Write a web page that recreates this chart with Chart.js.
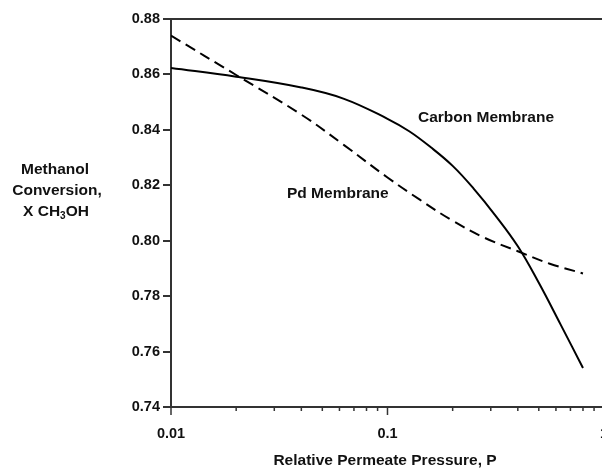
<!DOCTYPE html>
<html>
<head>
<meta charset="utf-8">
<script src="https://cdn.jsdelivr.net/npm/chart.js@4"></script>
<style>
  html, body { margin: 0; padding: 0; background: #fff; overflow: hidden; }
  #wrap { width: 618px; height: 470px; }
</style>
</head>
<body>
<div id="wrap"><canvas id="chart" width="618" height="470"></canvas></div>
<script>
// Methanol conversion vs relative permeate pressure

const carbonP = [0.01, 0.02, 0.04, 0.063, 0.1, 0.126, 0.158, 0.2, 0.25, 0.316, 0.4, 0.5, 0.63, 0.8];
const carbonX = [0.8623, 0.8592, 0.8553, 0.8512, 0.8440, 0.8395, 0.8338, 0.8270, 0.8188, 0.8090, 0.7980, 0.7848, 0.7698, 0.7541];

const pdP = [0.01, 0.02, 0.04, 0.063, 0.1, 0.141, 0.2, 0.282, 0.4, 0.562, 0.8];
const pdX = [0.8740, 0.8598, 0.8455, 0.8345, 0.8228, 0.8148, 0.8072, 0.8010, 0.7962, 0.7917, 0.7882];

const xTickLabels = [0.01, 0.1, 1];
const yTicks = [0.74, 0.76, 0.78, 0.80, 0.82, 0.84, 0.86, 0.88];

const FONT = "'Liberation Sans', Arial, sans-serif";
const INK = '#111';
const AXIS = '#333';

const toPoints = (xs, ys) => xs.map((x, i) => ({ x, y: ys[i] }));

// top border, x ticks (long major / short minor), and free text
const extras = {
  id: 'extras',
  afterDraw(chart) {
    const { ctx, chartArea: a, scales } = chart;
    const xs = scales.x;
    ctx.save();
    ctx.strokeStyle = AXIS;
    ctx.lineWidth = 2;
    ctx.beginPath();
    ctx.moveTo(a.left, a.top);
    ctx.lineTo(a.right + 10, a.top);
    ctx.stroke();

    ctx.lineWidth = 1.5;
    xs.ticks.forEach(t => {
      const major = Math.abs(Math.log10(t.value) - Math.round(Math.log10(t.value))) < 1e-6;
      const px = xs.getPixelForValue(t.value);
      ctx.beginPath();
      ctx.moveTo(px, a.bottom);
      ctx.lineTo(px, a.bottom + (major ? 8 : 4));
      ctx.stroke();
    });

    ctx.fillStyle = INK;
    ctx.font = `bold 15.5px ${FONT}`;
    ctx.textAlign = 'center';
    ctx.textBaseline = 'middle';
    ctx.fillText('Methanol', 55, 170);
    ctx.fillText('Conversion,', 57, 191);
    // X CH3OH with subscript 3
    const pre = 'X CH', sub = '3', post = 'OH';
    const wPre = ctx.measureText(pre).width;
    const wPost = ctx.measureText(post).width;
    ctx.font = `bold 10px ${FONT}`;
    const wSub = ctx.measureText(sub).width;
    const total = wPre + wSub + wPost;
    let x0 = 56 - total / 2;
    ctx.textAlign = 'left';
    ctx.font = `bold 15.5px ${FONT}`;
    ctx.fillText(pre, x0, 212);
    ctx.font = `bold 10px ${FONT}`;
    ctx.fillText(sub, x0 + wPre, 216);
    ctx.font = `bold 15.5px ${FONT}`;
    ctx.fillText(post, x0 + wPre + wSub, 212);

    ctx.textAlign = 'center';
    ctx.fillText('Relative Permeate Pressure, P', 385, 461);
    ctx.textAlign = 'left';
    ctx.fillText('Carbon Membrane', 418, 118);
    ctx.fillText('Pd Membrane', 287, 194);
    ctx.restore();
  }
};

new Chart(document.getElementById('chart'), {
  type: 'line',
  data: {
    datasets: [
      {
        label: 'Carbon Membrane',
        data: toPoints(carbonP, carbonX),
        borderColor: '#000',
        borderWidth: 2,
        pointRadius: 0,
        tension: 0.4,
        fill: false
      },
      {
        label: 'Pd Membrane',
        data: toPoints(pdP, pdX),
        borderColor: '#000',
        borderWidth: 2,
        borderDash: [11, 6],
        pointRadius: 0,
        tension: 0.4,
        fill: false
      }
    ]
  },
  options: {
    responsive: false,
    animation: false,
    layout: { padding: { top: 19, right: 0, left: 0, bottom: 0 } },
    plugins: { legend: { display: false }, tooltip: { enabled: false } },
    scales: {
      x: {
        type: 'logarithmic',
        min: 0.01,
        max: 1,
        afterFit: s => { s.height = 63; },
        afterBuildTicks: s => {
          const t = [];
          [0.01, 0.1].forEach(d => { for (let k = 1; k <= 9; k++) t.push({ value: +(d * k).toPrecision(3) }); });
          t.push({ value: 1 });
          s.ticks = t;
        },
        grid: { display: false },
        border: { display: true, color: AXIS, width: 2 },
        ticks: {
          autoSkip: false,
          maxRotation: 0,
          padding: 10,
          color: INK,
          font: { family: FONT, size: 14.5, weight: 'bold' },
          callback: v => xTickLabels.includes(+v.toPrecision(3)) ? String(v) : ''
        }
      },
      y: {
        min: 0.74,
        max: 0.88,
        afterFit: s => { s.width = 171; },
        afterBuildTicks: s => { s.ticks = yTicks.map(v => ({ value: v })); },
        grid: { drawOnChartArea: false, drawTicks: true, tickLength: 8, color: AXIS, lineWidth: 2 },
        border: { display: true, color: AXIS, width: 2 },
        ticks: {
          padding: 3,
          color: INK,
          font: { family: FONT, size: 14.5, weight: 'bold' },
          callback: v => v.toFixed(2)
        }
      }
    }
  },
  plugins: [extras]
});
</script>
</body>
</html>
